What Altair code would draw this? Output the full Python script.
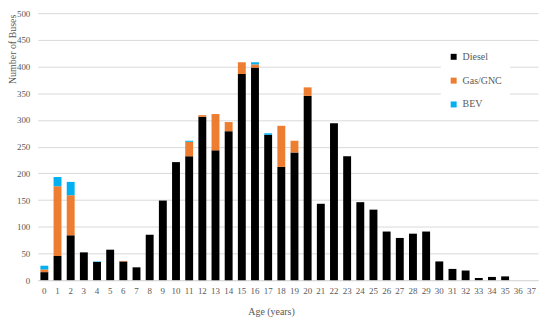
import altair as alt
import pandas as pd

ages = list(range(38))
diesel = [15, 45, 84, 52, 34, 57, 35, 24, 85, 149, 221, 232, 306, 243, 279, 386, 398, 272, 212, 239,
          345, 143, 294, 232, 146, 132, 91, 79, 87, 91, 35, 21, 18, 4, 6, 7, 0, 0]
gas = [5, 131, 75, 0, 0, 0, 1, 0, 0, 0, 0, 27, 3, 68, 17, 22, 6, 0, 77, 22,
       16, 0, 0, 0, 0, 0, 0, 0, 0, 0, 0, 0, 0, 0, 0, 0, 0, 0]
bev = [7, 17, 25, 0, 1, 0, 0, 0, 0, 0, 0, 2, 0, 0, 0, 0, 4, 3, 0, 0,
       0, 0, 0, 0, 0, 0, 0, 0, 0, 0, 0, 0, 0, 0, 0, 0, 0, 0]
series = ["Diesel", "Gas/GNC", "BEV"]
colors = ["#000000", "#ED7D31", "#00B0F0"]

rows = []
for i, a in enumerate(ages):
    for k, (name, vals) in enumerate(zip(series, [diesel, gas, bev])):
        rows.append({"age": str(a), "type": name, "n": vals[i], "ord": k})
df = pd.DataFrame(rows)

FONT = "Liberation Serif"
chart = alt.Chart(df).mark_bar().encode(
    x=alt.X("age:N", sort=[str(a) for a in ages], title="Age (years)",
            scale=alt.Scale(paddingInner=0.4, paddingOuter=0.2),
            axis=alt.Axis(labelAngle=0, ticks=False, domainColor="#D9D9D9",
                          labelPadding=6, titleX=235, titleY=32, titleBaseline="middle",
                          titleAlign="center")),
    y=alt.Y("sum(n):Q", title="Number of Buses",
            scale=alt.Scale(domain=[0, 500]),
            axis=alt.Axis(values=list(range(0, 501, 50)), domain=False, ticks=False,
                          gridColor="#D9D9D9", labelPadding=8,
                          titleX=-20, titleY=36, titleAlign="center", titleBaseline="bottom")),
    color=alt.Color("type:N", scale=alt.Scale(domain=series, range=colors),
                    legend=alt.Legend(title=None, orient="none", legendX=406, legendY=31,
                                      symbolType="square", symbolSize=36,
                                      rowPadding=14, padding=8, fillColor="white",
                                      labelFontSize=10, labelColor="#595959",
                                      labelFont=FONT)),
    order=alt.Order("ord:Q", sort="ascending"),
).properties(
    width=504, height=269,
    autosize=alt.AutoSizeParams(type="none"),
    padding={"left": 30, "top": 4, "right": 4, "bottom": 40},
).configure_view(stroke=None).configure_axis(
    labelFont=FONT, titleFont=FONT, labelFontSize=9, titleFontSize=10,
    labelColor="#595959", titleColor="#595959", titleFontWeight="normal",
)

chart.save("out.html", embed_options={"renderer": "svg", "actions": False})
